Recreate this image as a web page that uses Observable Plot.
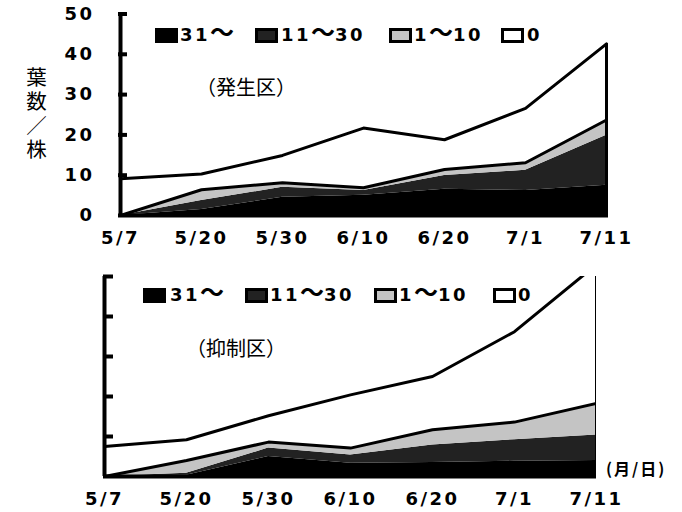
<!DOCTYPE html>
<html><head><meta charset="utf-8">
<script src="https://cdn.jsdelivr.net/npm/d3@7"></script>
<script src="https://cdn.jsdelivr.net/npm/@observablehq/plot@0.6"></script>
<style>
body{margin:0;background:#fff;}
#wrap{position:relative;width:682px;height:512px;overflow:hidden;background:#fff;}
.abs{position:absolute;white-space:nowrap;line-height:1;}
.lg{font-family:"DejaVu Sans",sans-serif;font-weight:bold;font-size:18px;letter-spacing:2.5px;}
.lg .w{font-family:"Noto Sans CJK JP";font-size:24px;line-height:0;letter-spacing:0;font-weight:bold;}
.sw{position:absolute;box-sizing:border-box;border:3px solid #000;width:23px;height:15px;}
.cjk{font-family:"Noto Sans CJK JP",sans-serif;}
.vt{writing-mode:vertical-rl;text-orientation:upright;letter-spacing:3.5px;}
svg{position:absolute;left:0;}
</style></head><body><div id="wrap"></div>
<script>
const dates = ["5/7","5/20","5/30","6/10","6/20","7/1","7/11"];
const categories = ["31～","11～30","1～10","0"];
const yTicks = [0,10,20,30,40,50];

// 発生区 (leaves per plant, by lesion-count class)
const hassei_31 = [0, 1.5, 4.5, 5.0, 6.5, 6.2, 7.5];
const hassei_11_30 = [0, 2.2, 2.5, 1.2, 3.4, 5.0, 12.4];
const hassei_1_10 = [0, 2.7, 1.1, 0.7, 1.5, 1.9, 3.8];
const hassei_0 = [9.1, 3.9, 6.8, 14.8, 7.4, 13.5, 18.9];

// 抑制区
const yokusei_31 = [0, 0.3, 5.0, 3.3, 3.5, 3.8, 4.0];
const yokusei_11_30 = [0, 0.5, 2.1, 2.1, 4.4, 5.4, 6.4];
const yokusei_1_10 = [0, 3.2, 1.5, 1.7, 3.8, 4.4, 7.9];
const yokusei_0 = [7.5, 5.2, 6.6, 13.3, 13.3, 22.6, 34.7];

const fills = ["#000", "#222", "#c4c4c4", "#fff"];

function chart(series, o) {
  const rows = [];
  categories.forEach((c, k) => dates.forEach((d, i) => rows.push({date: d, cat: c, value: series[k][i]})));
  const cum3 = dates.map((d, i) => ({date: d, v: series[0][i] + series[1][i] + series[2][i]}));
  const total = dates.map((d, i) => ({date: d, v: cum3[i].v + series[3][i]}));
  const font = {fontFamily: "DejaVu Sans, sans-serif", fontWeight: "bold", fontSize: 18};
  return Plot.plot({
    width: 682, height: 256,
    marginLeft: o.ml, marginRight: o.mr, marginTop: o.mt, marginBottom: o.mb,
    x: {type: "point", domain: dates, padding: 0, label: null},
    y: {domain: [0, 50], label: null},
    color: {domain: categories, range: fills},
    style: {background: "transparent", letterSpacing: "2.5px", color: "#000", overflow: "visible"},
    marks: [
      Plot.areaY(rows, {x: "date", y: "value", fill: "cat", clip: true}),
      Plot.lineY(cum3, {x: "date", y: "v", stroke: "#000", strokeWidth: 3, clip: true}),
      Plot.lineY(total, {x: "date", y: "v", stroke: "#000", strokeWidth: 3, clip: true}),
      Plot.ruleX([dates[dates.length - 1]], {y1: 0, y2: total[total.length - 1].v, strokeWidth: 3, clip: true}),
      Plot.ruleX([dates[0]], {strokeWidth: 4}),
      Plot.ruleY([0], {strokeWidth: 4}),
      Plot.axisY({ticks: yTicks.slice(1), tickSize: o.ts, dx: o.ts, tickFormat: () => "", strokeWidth: 4, label: null}),
      o.labels ? Plot.axisY({ticks: yTicks, tickSize: 0, tickPadding: 24, label: null, ...font}) : null,
      Plot.axisX({tickSize: 0, tickPadding: 16, label: null, ...font})
    ]
  });
}

const wrap = document.getElementById("wrap");
const top1 = chart([hassei_31, hassei_11_30, hassei_1_10, hassei_0], {ml: 118, mr: 74, mt: 13.5, mb: 41, ts: 9, labels: true});
top1.style.top = "0px";
wrap.appendChild(top1);
const bot = chart([yokusei_31, yokusei_11_30, yokusei_1_10, yokusei_0], {ml: 103, mr: 86, mt: 20, mb: 36, ts: 10, labels: false});
bot.style.top = "256px";
wrap.appendChild(bot);

function el(html, x, y, cls, css) {
  const d = document.createElement("div");
  d.className = "abs " + (cls || "");
  d.innerHTML = html;
  d.style.left = x + "px"; d.style.top = y + "px";
  if (css) Object.assign(d.style, css);
  wrap.appendChild(d);
  return d;
}
function sw(x, y, bg) {
  const d = document.createElement("div");
  d.className = "sw";
  d.style.left = x + "px"; d.style.top = y + "px"; d.style.background = bg;
  wrap.appendChild(d);
}
function lab(t) { return t.replace("～", '<span class="w">～</span>'); }
function legend(xs, y) {
  categories.forEach((c, k) => {
    sw(xs[k][0], y + 2, fills[k]);
    el(lab(c), xs[k][1], y, "lg");
  });
}
legend([[155, 180], [255, 281], [389, 414], [501, 527]], 26);
legend([[143, 170], [245, 270], [374, 399], [493, 518]], 286);

el("（発生区）", 196, 77, "cjk", {fontSize: "20px"});
el("（抑制区）", 186, 338, "cjk", {fontSize: "20px"});
el("葉数／株", 26, 67, "cjk vt", {fontSize: "20.5px"});
el("(月/日)", 606, 460, "cjk", {fontSize: "16px", fontWeight: "bold", letterSpacing: "2px"});
</script></body></html>
